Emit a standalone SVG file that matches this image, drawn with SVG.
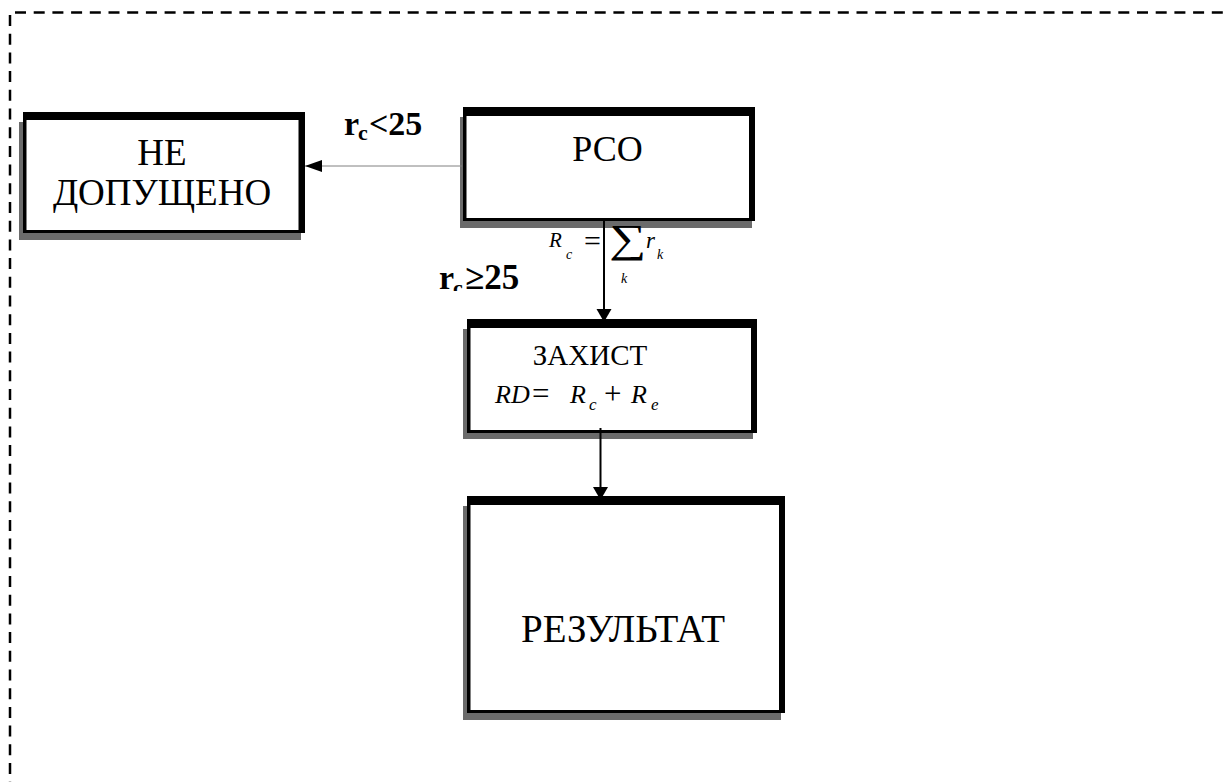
<svg xmlns="http://www.w3.org/2000/svg" width="1229" height="782" viewBox="0 0 1229 782">
<style>
.sh{fill:#6b6b6b}
.fr{fill:#000}
.in{fill:#fff}
.t{font-family:"Liberation Serif","Times New Roman",serif;fill:#000}
.i{font-family:"Liberation Serif","Times New Roman",serif;font-style:italic;fill:#000}
.b{font-family:"Liberation Serif","Times New Roman",serif;font-weight:bold;fill:#000}
.dash{stroke:#000;stroke-width:2.5;stroke-dasharray:11 7.7;fill:none}
</style>
<defs>
<marker id="ah" markerUnits="userSpaceOnUse" markerWidth="14" markerHeight="16" refX="13" refY="7.5" orient="auto">
<path d="M0,0 L13,7.5 L0,15 z" fill="#000"/>
</marker>
<marker id="ahh" markerUnits="userSpaceOnUse" markerWidth="18" markerHeight="13" refX="17" refY="6" orient="auto">
<path d="M0,0 L17,6 L0,12 z" fill="#000"/>
</marker>
<clipPath id="clipge"><rect x="380" y="240" width="200" height="51"/></clipPath>
</defs>
<rect width="1229" height="782" fill="#fff"/>
<g id="frame">
<path class="dash" d="M15,12.5 H1229"/>
<path class="dash" d="M10,15 V782"/>
</g>
<g id="node-ne">
<rect class="sh" x="19" y="122" width="282" height="118"/>
<rect class="fr" x="23" y="112" width="282" height="121"/>
<rect class="in" x="26.5" y="120" width="272" height="110"/>
<text class="t" x="162" y="165" font-size="37" text-anchor="middle">НЕ</text>
<text class="t" x="162" y="205" font-size="37" text-anchor="middle">ДОПУЩЕНО</text>
</g>
<g id="node-rso">
<rect class="sh" x="460" y="117" width="292" height="111"/>
<rect class="fr" x="463" y="107" width="292" height="114"/>
<rect class="in" x="466.5" y="116" width="282.5" height="102"/>
<text class="t" x="607.5" y="161" font-size="36" text-anchor="middle">РСО</text>
</g>
<g id="node-zahyst">
<rect class="sh" x="463" y="329" width="290" height="110"/>
<rect class="fr" x="467" y="319" width="290" height="114"/>
<rect class="in" x="470.5" y="328" width="280.5" height="102"/>
<text class="t" x="590" y="365" font-size="29" text-anchor="middle">ЗАХИСТ</text>
<text class="i" x="495" y="403" font-size="26">RD</text>
<text class="t" x="532" y="404" font-size="31">=</text>
<text class="i" x="570" y="403" font-size="26">R</text>
<text class="i" x="589" y="410" font-size="17">c</text>
<text class="t" x="604" y="404" font-size="31">+</text>
<text class="i" x="631" y="403" font-size="26">R</text>
<text class="i" x="651" y="410" font-size="17">e</text>
</g>
<g id="node-result">
<rect class="sh" x="463" y="506" width="318" height="214"/>
<rect class="fr" x="467" y="496" width="318" height="217"/>
<rect class="in" x="470.5" y="505" width="308.5" height="205"/>
<text class="t" x="623" y="642" font-size="39" text-anchor="middle">РЕЗУЛЬТАТ</text>
</g>
<g id="connectors">
<line x1="462" y1="166" x2="305" y2="166" stroke="#808080" stroke-width="1" marker-end="url(#ahh)"/>
<line x1="604" y1="221" x2="604" y2="322" stroke="#000" stroke-width="2" marker-end="url(#ah)"/>
<line x1="600.5" y1="428" x2="600.5" y2="500" stroke="#000" stroke-width="2" marker-end="url(#ah)"/>
</g>
<g id="labels">
<text class="b" x="344" y="135" font-size="34">r</text>
<text class="b" x="358" y="140" font-size="22">c</text>
<text class="b" x="369" y="135" font-size="34">&lt;25</text>
<g clip-path="url(#clipge)">
<text class="b" x="439" y="289" font-size="34">r</text>
<text class="b" x="453" y="295" font-size="22">c</text>
<text class="b" x="465" y="289" font-size="35">≥25</text>
</g>
<text class="i" x="549" y="247" font-size="21">R</text>
<text class="i" x="566" y="259" font-size="14">c</text>
<text class="t" x="584" y="251" font-size="30">=</text>
<text class="t" transform="translate(609,252) scale(1.3,1)" font-size="40">∑</text>
<text class="i" x="646" y="248" font-size="23">r</text>
<text class="i" x="657" y="259" font-size="14">k</text>
<text class="i" x="621" y="283" font-size="14">k</text>
</g>
</svg>
